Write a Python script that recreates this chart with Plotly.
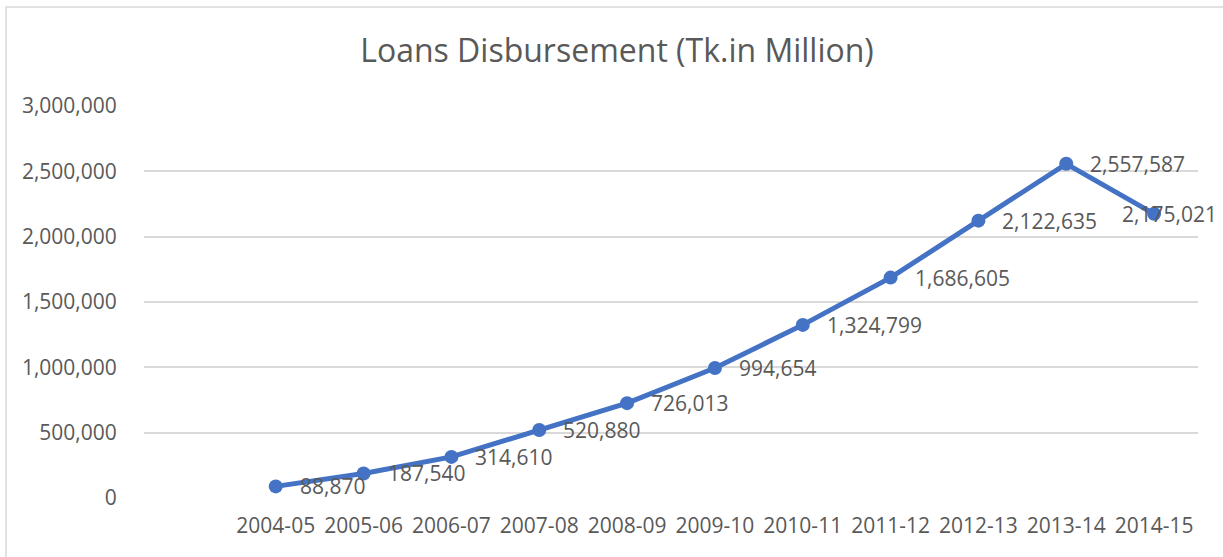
import plotly.graph_objects as go

years = ["2004-05", "2005-06", "2006-07", "2007-08", "2008-09", "2009-10",
         "2010-11", "2011-12", "2012-13", "2013-14", "2014-15"]
disbursement = [88870, 187540, 314610, 520880, 726013, 994654,
                1324799, 1686605, 2122635, 2557587, 2175021]
y_ticks = [0, 500000, 1000000, 1500000, 2000000, 2500000, 3000000]

BLUE = "#4472C4"
TEXT = "#595959"
GRID = "#D9D9D9"
FONT = "Open Sans"

W, H = 1223, 557
L, R, T, B = 144, 25, 106, 59
pw, ph = W - L - R, H - T - B

fig = go.Figure()
fig.add_trace(go.Scatter(
    x=list(range(len(years))), y=disbursement,
    mode="lines+markers",
    line=dict(color=BLUE, width=5),
    marker=dict(color=BLUE, size=14),
    hoverinfo="skip",
))

# value labels to the right of each point; the last one is pulled back
# so it stays inside the frame
for i, v in enumerate(disbursement):
    last = i == len(disbursement) - 1
    fig.add_annotation(
        x=i, y=v, text=f"{v:,}", showarrow=False,
        xanchor="center" if last else "left", yanchor="middle",
        xshift=15 if last else 22,
        font=dict(family=FONT, size=21, color=TEXT),
    )

# chart frame
def px_x(p):
    return (p - L) / pw

def px_y(p):
    return (H - B - p) / ph

fig.add_shape(type="rect", xref="paper", yref="paper",
              x0=px_x(6), x1=px_x(W + 5), y0=px_y(7), y1=px_y(H + 5),
              line=dict(color=GRID, width=1.5), fillcolor="rgba(0,0,0,0)",
              layer="below")

fig.update_layout(
    width=W, height=H,
    margin=dict(l=L, r=R, t=T, b=B, autoexpand=False),
    paper_bgcolor="white", plot_bgcolor="white",
    showlegend=False,
    title=dict(text="Loans Disbursement (Tk.in Million)",
               x=617 / W, xanchor="center", y=1 - 51 / H, yanchor="middle",
               font=dict(family=FONT, size=32, color=TEXT)),
    xaxis=dict(
        range=[-1.5, len(years) - 0.5],
        tickmode="array", tickvals=list(range(len(years))), ticktext=years,
        showgrid=False, zeroline=False, showline=False,
        ticks="outside", ticklen=9, tickcolor="rgba(0,0,0,0)",
        tickfont=dict(family=FONT, size=21, color=TEXT),
    ),
    yaxis=dict(
        range=[0, 3000000],
        tickmode="array", tickvals=y_ticks,
        ticktext=[f"{v:,}" for v in y_ticks],
        showgrid=True, gridcolor=GRID, gridwidth=1.5,
        zeroline=False, showline=False,
        ticks="outside", ticklen=22, tickcolor="rgba(0,0,0,0)",
        tickfont=dict(family=FONT, size=21, color=TEXT),
    ),
)

fig.write_html("out.html")
